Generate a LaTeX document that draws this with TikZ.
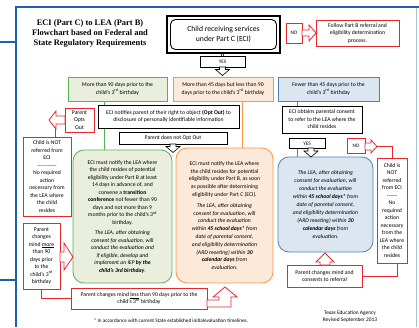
\documentclass[tikz,border=0pt]{standalone}
\usepackage{fontspec}
\setmainfont{Carlito}
\newfontfamily\titlefont{Liberation Serif}
\usetikzlibrary{calc}
\pgfdeclarelayer{bg}
\pgfsetlayers{bg,main}
\definecolor{framec}{RGB}{31,96,172}
\definecolor{gline}{RGB}{80,182,80}
\definecolor{gfill}{RGB}{233,238,221}
\definecolor{oline}{RGB}{247,150,70}
\definecolor{ofill}{RGB}{253,233,217}
\definecolor{bline}{RGB}{79,129,189}
\definecolor{bfill}{RGB}{220,230,241}
\definecolor{redc}{RGB}{232,38,43}
\begin{document}
\begin{tikzpicture}[x=1pt,y=-1pt,
  every node/.style={font=\fontsize{5.7}{7.5}\selectfont, align=center, inner sep=0pt, outer sep=0pt},
  blk/.style={draw=black, line width=0.7pt, fill=white},
  rbox/.style={draw=redc, line width=0.8pt, fill=white},
  gbox/.style={draw=gline, line width=0.8pt, fill=gfill},
  obox/.style={draw=oline, line width=0.8pt, fill=ofill},
  bbox/.style={draw=bline, line width=0.8pt, fill=bfill},
  rnd/.style={rounded corners=11pt},
  dbl/.style={draw=black!75, double=white, double distance=1.2pt, line width=0.55pt},
  barrow/.style={draw=black, line width=0.6pt, fill=white},
  rarrow/.style={draw=redc, line width=0.8pt, fill=white},
  redline/.style={draw=redc, line width=0.8pt},
  small/.style={font=\fontsize{5.2}{7}\selectfont},
]
\useasboundingbox (0,0) rectangle (419,327);

% frame
\draw[framec, line width=2pt] (0,42) -- (16,42);
\draw[framec, line width=2pt] (16,327) -- (16,7) -- (419,7);
\draw[framec, line width=2pt] (0,280) -- (16,280);
\draw[framec!40, line width=0.8pt] (416.5,8) -- (416.5,327);

% title
\node[font=\titlefont\bfseries\fontsize{8.4}{10}\selectfont] (title) at (90,34)
  {ECI (Part C) to LEA (Part B)\\Flowchart based on Federal and\\State Regulatory Requirements};

% top
\node[blk, line width=1.3pt, minimum width=113, minimum height=37, font=\fontsize{7.7}{10.5}\selectfont] (main) at (223.5,34.5)
  {Child receiving services\\under Part C (ECI)};
\draw[rounded corners=5pt, line width=0.9pt] ($(main.north west)+(3.5,3.5)$) rectangle ($(main.south east)+(-3.5,-3.5)$);
\node[rbox, minimum width=16, minimum height=20, small] (no1) at (294,33) {NO};
\node[rbox, minimum width=83, minimum height=26] (follow) at (357.5,33)
  {Follow Part B referral and\\eligibility determination\\process.};
\node[blk, minimum width=45, minimum height=11, small] (yes1) at (222.5,61.5) {YES};

% condition boxes
\node[gbox, minimum width=99, minimum height=24] (gcond) at (117.5,89)
  {More than 90 days prior to the\\child's 3\textsuperscript{rd} birthday};
\node[obox, minimum width=100, minimum height=24] (ocond) at (223,89)
  {More than 45 days but less than 90\\days prior to the child's 3\textsuperscript{rd} birthday};
\node[bbox, minimum width=101, minimum height=24] (bcond) at (328.5,89)
  {Fewer than 45 days prior to the\\child's 3\textsuperscript{rd} birthday};

% left branch
\node[blk, minimum width=141, minimum height=23] (notify) at (168.5,116.5)
  {ECI notifies parent of their right to object \textbf{(Opt Out)} to\\disclosure of personally identifiable information};
\node[rbox, minimum width=29, minimum height=24] (popt) at (79.5,120) {Parent\\Opts\\Out};
\node[blk, minimum width=108, minimum height=12] (nooptout) at (173,138) {Parent does not Opt Out};
\node[rbox, minimum width=48, minimum height=79] (childL) at (47,176.5)
  {Child is NOT\\referred from\\ECI\\{-}{-}{-}{-}{-}{-}{-}{-}{-}{-}{-}\\No required\\action\\necessary from\\the LEA where\\the child\\resides};
\node[rbox, minimum width=37, minimum height=66] (pchange) at (41.5,256)
  {Parent\\changes\\mind \underline{more}\\than 90\\days prior\\to the\\child's 3\textsuperscript{rd}\\birthday};
\node[rbox, minimum width=136, minimum height=21] (less) at (139,298.5)
  {Parent changes mind \underline{less} than 90 days prior to the\\child's 3\textsuperscript{rd} birthday};

% rounded boxes
\node[gbox, rnd, minimum width=99, minimum height=133] (grnd) at (122.5,216.5)
  {ECI must notify the LEA where\\the child resides of potential\\eligibility under Part B at least\\14 days in advance of, and\\convene a \textbf{transition}\\\textbf{conference} not fewer than 90\\days and not more than 9\\months prior to the child's 3\textsuperscript{rd}\\birthday.\\[3pt]
  \textit{The LEA, after obtaining}\\\textit{consent for evaluation, will}\\\textit{conduct the evaluation and}\\\textit{if eligible, develop and}\\\textit{implement an IEP} \textbf{\textit{by the}}\\\textbf{\textit{child's 3rd birthday}}.};
\node[obox, rnd, minimum width=97, minimum height=135, font=\fontsize{5.7}{7.8}\selectfont] (ornd) at (224.5,215.5)
  {ECI must notify the LEA where\\the child resides for potential\\eligibility under Part B, as soon\\as possible after determining\\eligibility under Part C (ECI).\\[3pt]
  \textit{The LEA, after obtaining}\\\textit{consent for evaluation, will}\\\textit{conduct the evaluation}\\\textit{within} \textbf{\textit{45 school days*}} \textit{from}\\\textit{date of parental consent,}\\\textit{and eligibility determination}\\\textit{(ARD meeting) within} \textbf{\textit{30}}\\\textbf{\textit{calendar days}} \textit{from}\\\textit{evaluation.}};
\node[bbox, rnd, minimum width=95, minimum height=95, font=\fontsize{5.7}{8}\selectfont] (brnd) at (325.5,204.5)
  {\textit{The LEA, after obtaining}\\\textit{consent for evaluation, will}\\\textit{conduct the evaluation}\\\textit{within} \textbf{\textit{45 school days*}} \textit{from}\\\textit{date of parental consent,}\\\textit{and eligibility determination}\\\textit{(ARD meeting) within} \textbf{\textit{30}}\\\textbf{\textit{calendar days}} \textit{from}\\\textit{evaluation.}};

% right branch
\node[blk, minimum width=80, minimum height=27] (obtain) at (322,119.5)
  {ECI obtains parental consent\\to refer to the LEA where the\\child resides};
\node[blk, minimum width=36, minimum height=10, small] (yes2) at (307,143.5) {YES};
\node[rbox, minimum width=18, minimum height=15, small] (no2) at (356,145.5) {NO};
\node[rbox, minimum width=30, minimum height=105] (childR) at (392,210.5)
  {Child is\\NOT\\referred\\from ECI\\{-}{-}{-}{-}{-}{-}\\No\\required\\action\\necessary\\from the\\LEA where\\the child\\resides};
\node[rbox, minimum width=75, minimum height=22] (consent) at (324.5,276)
  {Parent changes mind and\\consents to referral};

% footer
\node[small] (foot) at (171,321) {* In accordance with current State established initialevaluation timelines.};
\node[font=\fontsize{5.4}{7.2}\selectfont] (tea) at (350,316.5) {Texas Education Agency\\Revised September 2013};

% helper coordinates
\coordinate (c104) at (104,0);
\coordinate (c145) at (145,0);
\coordinate (c202) at (202,0);
\coordinate (c242) at (242,0);
\coordinate (c297) at (297,0);
\coordinate (c357) at (357,0);
\coordinate (c397) at (397,0);
\coordinate (tipR) at (377,146.5);
\coordinate (poptc) at (55,127);

% connectors behind
\begin{pgfonlayer}{bg}
\draw[dbl] (no1.west -| main.east) -- (no1.west);
\draw[dbl] (yes1.north |- main.south) -- (yes1.north);
\draw[dbl] (gcond.east) -- (ocond.west);
\draw[dbl] (ocond.east) -- (bcond.west);
\draw[dbl] (gcond.south -| c145) -- (notify.north -| c145);
\draw[dbl] (ocond.south -| c202) -- (notify.north -| c202);
\draw[gline, line width=0.8pt] (gcond.south -| c104) -- (grnd.north -| c104);
\draw[oline, line width=0.8pt] (ocond.south -| c242) -- (ornd.north -| c242);
\draw[bline, line width=0.8pt] (bcond.south -| c297) -- (brnd.north -| c297);
\draw[dbl] (popt.east) -- (popt.east -| notify.west);
\draw[dbl] (nooptout.north |- notify.south) -- (nooptout.north);
\draw[dbl] (obtain.north |- bcond.south) -- (obtain.north);
\draw[dbl] (obtain.south -| c297) -- (yes2.north -| c297);
\draw[dbl] (obtain.south -| c357) -- (no2.north -| c357);
\draw[redline] (pchange.south) |- (less.west);
\draw[redline] (childR.south -| c397) |- (consent.east);
\draw[redline] (tipR) -| (childR.north);
\draw[redline] (poptc) -- (childL.north -| poptc);
\end{pgfonlayer}

% block arrows
\draw[rarrow] (302,30)--(309,30)--(309,25)--(316,33)--(309,41)--(309,36)--(302,36)--cycle;
\draw[barrow] (219.5,67)--(219.5,69.5)--(215.5,69.5)--(222.5,75.5)--(229.5,69.5)--(225.5,69.5)--(225.5,67)--cycle;
\draw[barrow] (170,144)--(170,146.5)--(166,146.5)--(173,152.5)--(180,146.5)--(176,146.5)--(176,144)--cycle;
\draw[rarrow] (65,116)--(56,116)--(56,111)--(49,120)--(56,129)--(56,124)--(65,124)--cycle;
\draw[rarrow] (60,252)--(64,252)--(64,243)--(73,257)--(64,270)--(64,262)--(60,262)--cycle;
\draw[rarrow] (207,300)--(219,300)--(219,297)--(213,297)--(225,287)--(237,297)--(231,297)--(231,307)--(207,307)--cycle;
\draw[barrow] (308,148)--(308,151)--(304,151)--(311,157)--(318,151)--(314,151)--(314,148)--cycle;
\draw[rarrow] (365,143)--(371,143)--(371,140)--(377,146.5)--(371,153)--(371,150)--(365,150)--cycle;
\draw[rarrow] (320,265)--(320,262)--(316,262)--(325,253)--(334,262)--(330,262)--(330,265)--cycle;
\end{tikzpicture}
\end{document}
